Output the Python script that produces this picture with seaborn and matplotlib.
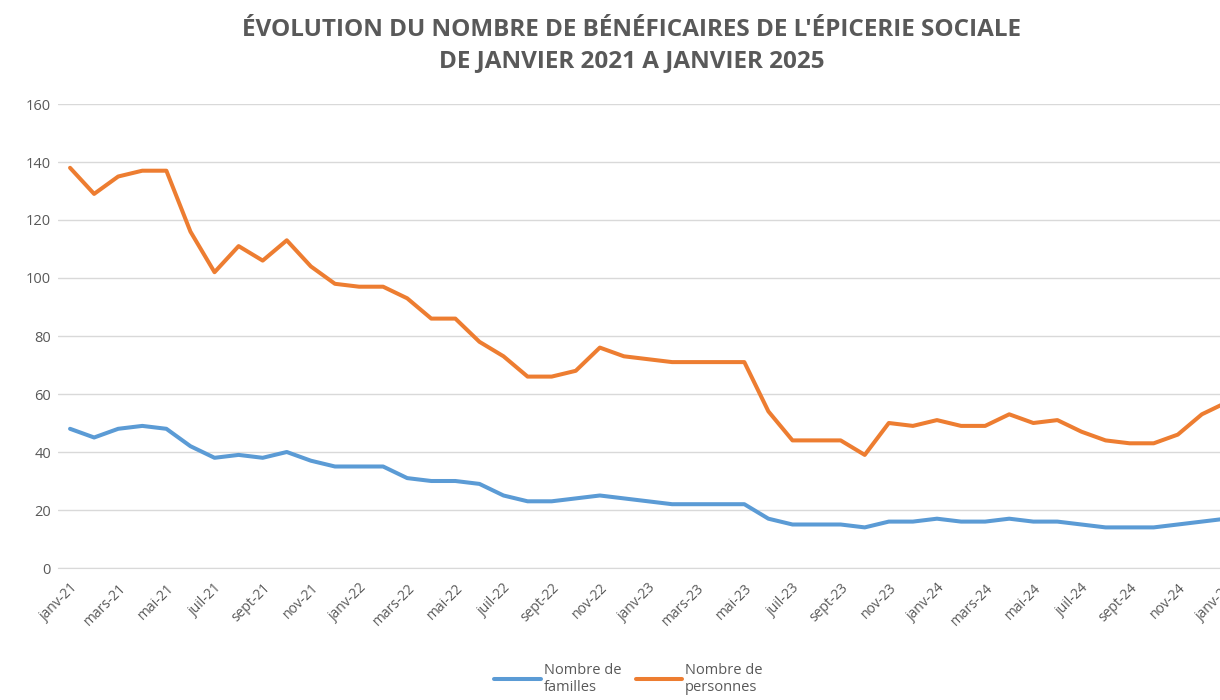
"""
Évolution du nombre de bénéficiaires de l'épicerie sociale (janv-21 -> janv-25)
"""

import numpy as np
import pandas as pd
import matplotlib.pyplot as plt
import seaborn as sns

# données mensuelles, index 0 = janv-21
mois = ["janv", "févr", "mars", "avr", "mai", "juin",
        "juil", "août", "sept", "oct", "nov", "déc"]
annees = [21, 22, 23, 24, 25]
periodes = [f"{m}-{a}" for a in annees for m in mois][:49]

familles = [48, 45, 48, 49, 48, 42, 38, 39, 38, 40, 37, 35,
            35, 35, 31, 30, 30, 29, 25, 23, 23, 24, 25, 24,
            23, 22, 22, 22, 22, 17, 15, 15, 15, 14, 16, 16,
            17, 16, 16, 17, 16, 16, 15, 14, 14, 14, 15, 16,
            17]
personnes = [138, 129, 135, 137, 137, 116, 102, 111, 106, 113, 104, 98,
             97, 97, 93, 86, 86, 78, 73, 66, 66, 68, 76, 73,
             72, 71, 71, 71, 71, 54, 44, 44, 44, 39, 50, 49,
             51, 49, 49, 53, 50, 51, 47, 44, 43, 43, 46, 53,
             57]

series = ["Nombre de\nfamilles", "Nombre de\npersonnes"]
couleurs = ["#5B9BD5", "#ED7D31"]

df = pd.DataFrame({
    "idx": list(range(len(periodes))) * 2,
    "valeur": familles + personnes,
    "serie": [series[0]] * len(familles) + [series[1]] * len(personnes),
})

sns.set_style("white")
plt.rcParams["font.family"] = ["Open Sans", "DejaVu Sans"]

fig = plt.figure(figsize=(12.2, 7), dpi=100)
# l'axe déborde à droite comme sur l'original (graphique rogné)
ax = fig.add_axes([58 / 1220, 132 / 700, 1180 / 1220, 464 / 700])

sns.lineplot(data=df, x="idx", y="valeur", hue="serie", palette=couleurs,
             linewidth=2.9, ax=ax)

ax.set_xlim(-0.5, len(periodes) - 0.5)
ax.set_ylim(0, 160)
ax.set_yticks(range(0, 161, 20))
ax.yaxis.grid(True, color="#d9d9d9", linewidth=1)
ax.set_axisbelow(True)
for s in ["top", "right", "left"]:
    ax.spines[s].set_visible(False)
ax.spines["bottom"].set_color("#d9d9d9")

# étiquettes tous les 2 mois, graduations entre les catégories
ax.set_xticks(range(0, len(periodes), 2))
ax.set_xticklabels(periodes[::2], rotation=45, ha="right",
                   rotation_mode="anchor", fontsize=10, color="#595959")
ax.set_xticks(np.arange(-0.5, len(periodes), 2), minor=True)
ax.tick_params(axis="x", which="major", length=0, pad=9)
ax.tick_params(axis="x", which="minor", length=5, color="#d9d9d9", direction="out")
ax.tick_params(axis="y", length=0, labelsize=10.5, labelcolor="#595959", pad=5)
ax.set_xlabel("")
ax.set_ylabel("")

fig.text(0.518, 0.935, "ÉVOLUTION DU NOMBRE DE BÉNÉFICAIRES DE L'ÉPICERIE SOCIALE\nDE JANVIER 2021 A JANVIER 2025",
         ha="center", va="center", fontsize=17.5, fontweight="bold",
         color="#595959", linespacing=1.35)

ax.legend_.remove()
handles, labels = ax.get_legend_handles_labels()
fig.legend(handles, labels, loc="center", bbox_to_anchor=(0.515, 0.03),
           ncol=2, frameon=False, fontsize=10.5, handlelength=3.2,
           handletextpad=0.2, columnspacing=1.0, labelcolor="#595959")

plt.savefig("out.png", dpi=100)
plt.close()
